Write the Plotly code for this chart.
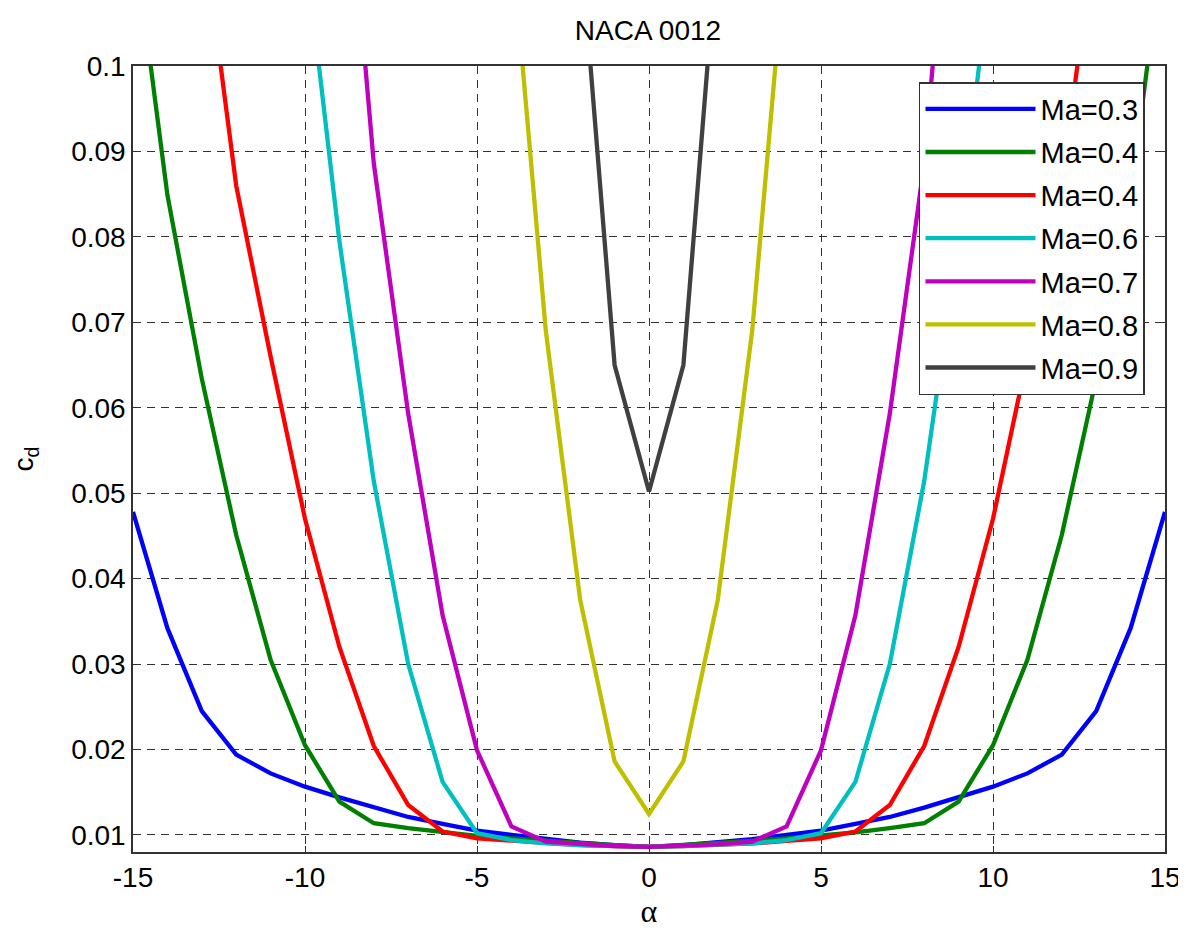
import plotly.graph_objects as go

alpha = list(range(-15, 16))

# half-profiles for |alpha| = 0..15 (curves are symmetric); None = far outside view
half_ma03 = [0.0086, 0.0088, 0.0091, 0.0095, 0.0100, 0.0105, 0.0113, 0.0121, 0.0132, 0.0144,
             0.01565, 0.0172, 0.0194, 0.0245, 0.0342, 0.0478]
half_ma04a = [0.0086, 0.0088, 0.0090, 0.0093, 0.0096, 0.0099, 0.0103, 0.0108, 0.01137, 0.0139,
              0.0205, 0.0305, 0.0451, 0.0634, 0.0849, 0.116]
half_ma04b = [0.0086, 0.0087, 0.0088, 0.0090, 0.0093, 0.0096, 0.0104, 0.0135, 0.0204, 0.032,
              0.047, 0.066, 0.086, 0.117, None, None]
half_ma06 = [0.0086, 0.0087, 0.0088, 0.0090, 0.0094, 0.0102, 0.0162, 0.0300, 0.0514, 0.0795,
             0.114, None, None, None, None, None]
half_ma07 = [0.0086, 0.0087, 0.0089, 0.0092, 0.0110, 0.0199, 0.0357, 0.0593, 0.0886, 0.135,
             None, None, None, None, None, None]
half_ma08 = [0.01245, 0.0186, 0.0375, 0.069, 0.115, None, None, None, None, None,
             None, None, None, None, None, None]
half_ma09 = [0.0502, 0.065, 0.115, None, None, None, None, None, None, None,
             None, None, None, None, None, None]

series_names = ["Ma=0.3", "Ma=0.4", "Ma=0.4", "Ma=0.6", "Ma=0.7", "Ma=0.8", "Ma=0.9"]
series_half = [half_ma03, half_ma04a, half_ma04b, half_ma06, half_ma07, half_ma08, half_ma09]
series_colors = ["rgb(0,0,255)", "rgb(0,128,0)", "rgb(255,0,0)", "rgb(0,191,191)",
                 "rgb(191,0,191)", "rgb(191,191,0)", "rgb(64,64,64)"]

x_tickvals = [-15, -10, -5, 0, 5, 10, 15]
x_ticktext = ["-15", "-10", "-5", "0", "5", "10", "15"]
y_tickvals = [0.01, 0.02, 0.03, 0.04, 0.05, 0.06, 0.07, 0.08, 0.09, 0.1]
y_ticktext = ["0.01", "0.02", "0.03", "0.04", "0.05", "0.06", "0.07", "0.08", "0.09", "0.1"]


def full_profile(half):
    return [half[abs(a)] for a in alpha]


fig = go.Figure()
for i, (name, half, col) in enumerate(zip(series_names, series_half, series_colors)):
    fig.add_trace(go.Scatter(
        x=alpha, y=full_profile(half), mode="lines", name=name,
        legendgroup="g%d" % i,
        line=dict(color=col, width=4.3),
        connectgaps=False,
    ))

font_family = "Liberation Sans, Arial, sans-serif"
axis_common = dict(
    showline=True, mirror="allticks", linecolor="#333333", linewidth=1.5,
    ticks="inside", ticklen=6, tickcolor="#333333", tickwidth=1,
    showgrid=True, gridcolor="#333333", gridwidth=1, griddash="8px,6px",
    zeroline=False, automargin=False,
    tickfont=dict(family=font_family, size=28, color="black"),
)

fig.update_layout(
    width=1178, height=928,
    margin=dict(l=125, r=21, t=58, b=84),
    paper_bgcolor="white", plot_bgcolor="white",
    font=dict(family=font_family, size=28, color="black"),
    title=dict(text="NACA 0012", x=0.5433, xanchor="center", y=0.976, yanchor="middle",
               font=dict(family=font_family, size=28, color="black")),
    xaxis=dict(range=[-15, 15], tickvals=x_tickvals, ticktext=x_ticktext,
               title=dict(text="α", font=dict(family="Liberation Serif, serif", size=32), standoff=4),
               **axis_common),
    yaxis=dict(range=[0.008, 0.1], tickvals=y_tickvals, ticktext=y_ticktext,
               title=dict(text="c<sub>d</sub>", font=dict(family=font_family, size=28), standoff=40),
               **axis_common),
    showlegend=True,
    legend=dict(
        x=0.7616, y=0.9796, xanchor="left", yanchor="top",
        bgcolor="white", bordercolor="#333333", borderwidth=1.5,
        font=dict(family=font_family, size=29, color="black"),
        traceorder="grouped", tracegroupgap=2.4, itemwidth=110,
    ),
)

fig.write_html("out.html")
